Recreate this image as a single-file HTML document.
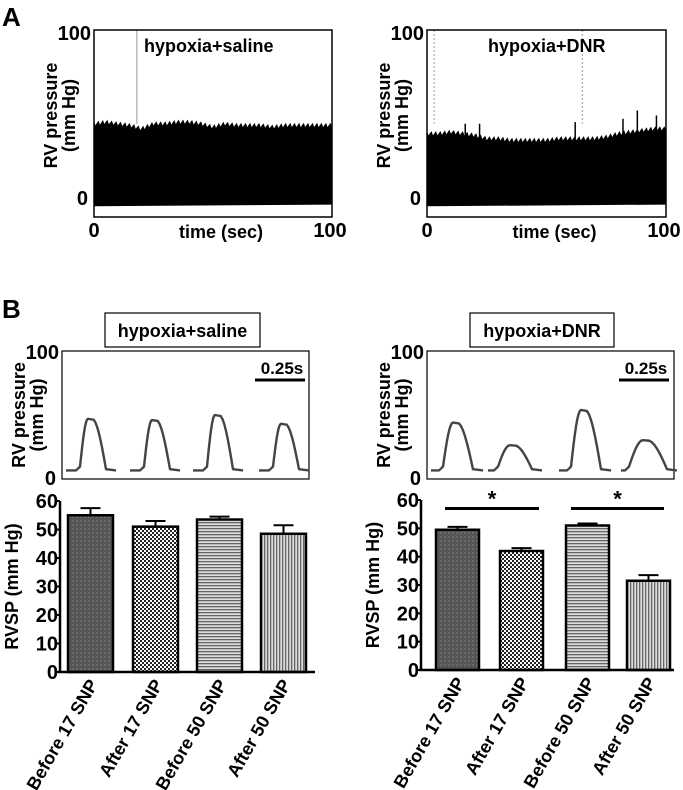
<!DOCTYPE html>
<html><head><meta charset="utf-8"><style>
body{margin:0;background:#fff;}
svg{display:block;font-family:"Liberation Sans",Arial,sans-serif;font-weight:bold;}
</style></head><body>
<svg width="683" height="790" viewBox="0 0 683 790">
<defs>
<pattern id="pDot" width="4" height="4" patternUnits="userSpaceOnUse"><rect width="4" height="4" fill="#555"/><rect x="0" y="0" width="2" height="2" fill="#6a6a6a"/></pattern>
<pattern id="pChk" width="4" height="4" patternUnits="userSpaceOnUse"><rect width="4" height="4" fill="#fff"/><rect width="2" height="2" fill="#222"/><rect x="2" y="2" width="2" height="2" fill="#222"/></pattern>
<pattern id="pHor" width="4" height="3" patternUnits="userSpaceOnUse"><rect width="4" height="3" fill="#ddd"/><rect width="4" height="1.3" fill="#666"/></pattern>
<pattern id="pVer" width="3" height="4" patternUnits="userSpaceOnUse"><rect width="3" height="4" fill="#ddd"/><rect width="1.3" height="4" fill="#666"/></pattern>
</defs>
<g id="root"></g>
</svg>
<script>
// Panel A envelopes (mm Hg) sampled across 0-100 s
const aSalineTop=[45,46,45,44,42,45,45,46,46,45,43,45,44,44,44,43,44,44,44,44,44];
const aDnrTop=[39,39,40,39,38,36,36,35,35,35,35,36,36,36,36,37,39,40,41,42,42];
const aDnrSpikes=[[16,45],[22,45],[62,46],[82,48],[88,53],[96,50]];
const aBottom=-5;
// Panel B waveforms: peak values (mm Hg)
const wSaline=[47,46,50,43];
const wDnr=[44,26,54,30];
// Panel B bars
const categories=["Before 17 SNP","After 17 SNP","Before 50 SNP","After 50 SNP"];
const salineMean=[55,51,53.5,48.5];
const salineErr=[2.5,2,1,3];
const dnrMean=[49.5,42,51,31.5];
const dnrErr=[1,1,0.7,2];
const yTicks=[0,10,20,30,40,50,60];

const NS="http://www.w3.org/2000/svg";
const root=document.getElementById('root');
function mk(tag,attrs,parent,txt){const e=document.createElementNS(NS,tag);for(const k in attrs)e.setAttribute(k,attrs[k]);if(txt!=null)e.textContent=txt;(parent||root).appendChild(e);return e;}

function label(t,x,y,size,anchor,name,rot){
 const e=mk('text',{x:x,y:y,'font-size':size,'text-anchor':anchor||'start',transform:rot?`rotate(${rot} ${x} ${y})`:''},root,t);
 
 
 return e;
}
label('A',2,26,26,'start','panel-a-label');
label('B',2,318,26,'start','panel-b-label');

function panelA(x0,x1,top,name,title,titleX,vlines,spikes){
 const yT=30,yB=217,y0=198,y100=33;
 const ys=v=>y0-(v/100)*(y0-y100);
 const g=mk('g',{});
 
 
 let d=`M${x0},${ys(aBottom)}`;
 const n=160;
 for(let k=0;k<=n;k++){const t=k/n*(top.length-1);const i=Math.floor(t),f=t-i;const v=i>=top.length-1?top[top.length-1]:top[i]*(1-f)+top[i+1]*f;const j=(k%3===0?1.5:(k%3===1?-1:0.3));d+=` L${x0+(x1-x0)*k/n},${ys(v+j)}`;}
 d+=` L${x1},${ys(aBottom+1)} Z`;
 const p=mk('path',{d:d,fill:'#000'},g);
 
 
 spikes.forEach(s=>{const l=mk('line',{x1:x0+(x1-x0)*s[0]/100,x2:x0+(x1-x0)*s[0]/100,y1:ys(s[1]),y2:ys(30),stroke:'#000','stroke-width':1.5},g);
  });
 vlines.forEach(v=>{const l=mk('line',{x1:x0+(x1-x0)*v/100,x2:x0+(x1-x0)*v/100,y1:yT,y2:ys(45),stroke:'#999','stroke-width':1,'stroke-dasharray':vlines.length>1?'2,2':''},g);
  });
 const r=mk('rect',{x:x0,y:yT,width:x1-x0,height:yB-yT,fill:'none',stroke:'#000','stroke-width':1.5},g);
 
 label('100',x0-3,y100+7,20,'end',name+'-ytick-100');
 label('0',x0-6,y0+7,20,'end',name+'-ytick-0');
 label('0',x0,237,20,'middle',name+'-xtick-0');
 label('100',x1-2,237,20,'middle',name+'-xtick-100');
 label('time (sec)',(x0+x1)/2+8,238,18,'middle',name+'-x-axis-title');
 label(title,titleX,52,18,'start',name+'-title');
 label('RV pressure',x0-37,(yT+yB)/2-8,18,'middle',name+'-y-axis-title',-90);
 label('(mm Hg)',x0-19,(yT+yB)/2-8,18,'middle',name+'-y-axis-unit',-90);
}
panelA(94,332,aSalineTop,'trace-saline','hypoxia+saline',144,[18],[]);
panelA(427,666,aDnrTop,'trace-dnr','hypoxia+DNR',488,[3,65],aDnrSpikes);

function wave(x0,x1,peaks,centers,widths,name,title,tbx,tbw,sbX){
 const yT=351,yB=479,y0=478,y100=352;
 const ys=v=>y0-(v/100)*(y0-y100);
 const g=mk('g',{});
 
 const tb=mk('rect',{x:tbx,y:313,width:tbw,height:34,fill:'#fff',stroke:'#000','stroke-width':1.2},g);
 
 label(title,tbx+tbw/2,337,18,'middle',name+'-title');
 const r=mk('rect',{x:x0,y:yT,width:x1-x0,height:yB-yT,fill:'none',stroke:'#000','stroke-width':1.2},g);
 
 peaks.forEach((p,i)=>{const c=centers[i],w=widths[i];const b=6;
  let d=`M${c-24},${ys(b)} L${c-w-2},${ys(b)} L${c-w+2},${ys(b+3)}`;
  const steps=8;
  for(let k=0;k<=steps;k++){const t=k/steps;d+=` L${c-w+2+t*(w-4)},${ys(b+3+(p-b-3)*Math.sin(t*Math.PI/2))}`;}
  for(let k=1;k<=steps;k++){const t=k/steps;d+=` L${c+2+t*(w+2)},${ys(p-(p-b-1)*(1-Math.cos(t*Math.PI/2)))}`;}
  d+=` L${c+w+14},${ys(b)}`;
  const l=mk('path',{d:d,fill:'none',stroke:'#444','stroke-width':2.4,'stroke-linejoin':'round'},g);
  });
 const sb=mk('line',{x1:sbX,x2:sbX+50,y1:380,y2:380,stroke:'#000','stroke-width':3},g);
 
 label('0.25s',sbX+27,374,17,'middle',name+'-scale-label');
 label('100',x0-3,y100+7,20,'end',name+'-ytick-100');
 label('0',x0-6,y0+7,20,'end',name+'-ytick-0');
 label('RV pressure',x0-37,(yT+yB)/2,18,'middle',name+'-y-axis-title',-90);
 label('(mm Hg)',x0-19,(yT+yB)/2,18,'middle',name+'-y-axis-unit',-90);
}
wave(62,309,wSaline,[90,154,217,283],[12,12,12,12],'wave-saline','hypoxia+saline',105,155,255);
wave(427,674,wDnr,[455,512,583,645],[14,16,14,18],'wave-dnr','hypoxia+DNR',470,144,619);

function bars(ax,axEnd,y0,y60,mean,err,name,barX,barW,sig){
 const ys=v=>y0-(v/60)*(y0-y60);
 const g=mk('g',{});
 
 const fills=['url(#pDot)','url(#pChk)','url(#pHor)','url(#pVer)'];
 mean.forEach((m,i)=>{
  const x=barX[i];
  const e=mk('line',{x1:x+barW/2,x2:x+barW/2,y1:ys(m),y2:ys(m+err[i]),stroke:'#000','stroke-width':2},g);
  
  const c=mk('line',{x1:x+barW/2-10,x2:x+barW/2+10,y1:ys(m+err[i]),y2:ys(m+err[i]),stroke:'#000','stroke-width':2},g);
  
  const r=mk('rect',{x:x,y:ys(m),width:barW,height:y0-ys(m),fill:fills[i],stroke:'#000','stroke-width':2.5},g);
  
  label(categories[i],x+barW/2+8,y0+12,18,'end',name+'-xlabel',-60);
 });
 const a=mk('line',{x1:ax,x2:ax,y1:y60,y2:y0,stroke:'#000','stroke-width':2.5},g);
 
 const b=mk('line',{x1:ax-2,x2:axEnd,y1:y0,y2:y0,stroke:'#000','stroke-width':2.5},g);
 
 yTicks.forEach(t=>{
  const tk=mk('line',{x1:ax-4,x2:ax,y1:ys(t),y2:ys(t),stroke:'#000','stroke-width':2},g);
  
  label(String(t),ax-2,ys(t)+7,20,'end',name+'-ytick-label');
 });
 label('RVSP (mm Hg)',ax-42,(y0+y60)/2,18,'middle',name+'-y-axis-title',-90);
 sig.forEach(s=>{
  const l=mk('line',{x1:s[0],x2:s[1],y1:ys(57),y2:ys(57),stroke:'#000','stroke-width':3},g);
  
  label('*',(s[0]+s[1])/2,ys(57)-2,22,'middle','significance-asterisk');
 });
}
bars(60,315,672,501,salineMean,salineErr,'rvsp-saline',[68,133,197,261],45,[]);
bars(421,674,670,500,dnrMean,dnrErr,'rvsp-dnr',[436,500,566,627],43,[[445,539],[571,664]]);
</script>
</body></html>
